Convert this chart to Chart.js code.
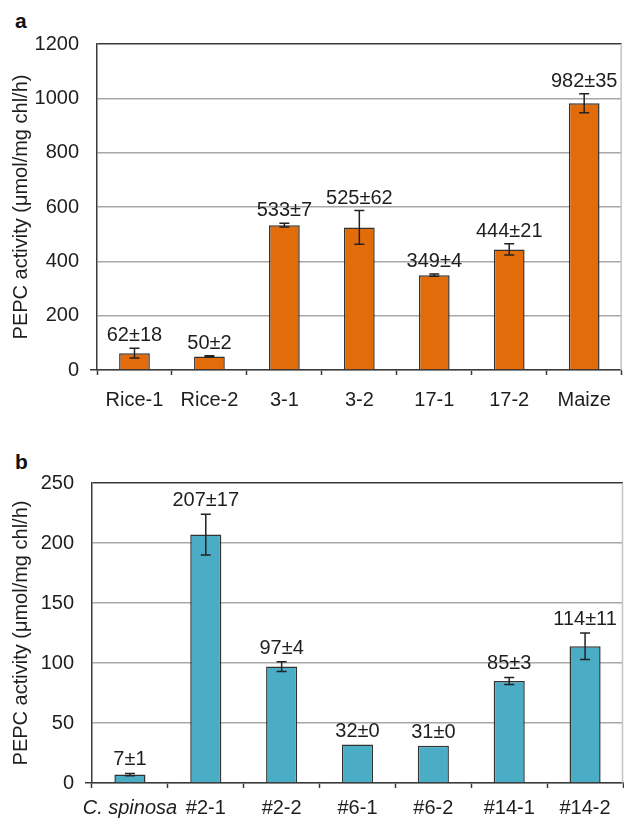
<!DOCTYPE html>
<html>
<head>
<meta charset="utf-8">
<script src="https://cdn.jsdelivr.net/npm/chart.js@4"></script>
<style>
  body { margin: 0; background: #fff; width: 624px; height: 820px; position: relative; overflow: hidden; }
  canvas { position: absolute; left: 0; }
  .panel { position: absolute; font: bold 21px "Liberation Sans", Arial, sans-serif; color: #111; }
</style>
</head>
<body>
<div class="panel" style="left:15px; top:9px;">a</div>
<canvas id="chartA" width="624" height="420" style="top:0"></canvas>
<div class="panel" style="left:15px; top:450px;">b</div>
<canvas id="chartB" width="624" height="400" style="top:420px"></canvas>
<script>
const catA = ['Rice-1', 'Rice-2', '3-1', '3-2', '17-1', '17-2', 'Maize'];
const meanA = [62, 50, 533, 525, 349, 444, 982];
const errA = [18, 2, 7, 62, 4, 21, 35];

const catB = ['C. spinosa', '#2-1', '#2-2', '#6-1', '#6-2', '#14-1', '#14-2'];
const meanB = [7, 207, 97, 32, 31, 85, 114];
const errB = [1, 17, 4, 0, 0, 3, 11];

const FONT = '"Liberation Sans", Arial, sans-serif';
const SIZE = 20;
const TEXT = '#1e1e1e';
const AXIS = '#3a3a3a';

// error bars + "mean±err" labels on top
const errorBars = {
    id: 'errorBars',
    afterDatasetsDraw(chart, args, opts) {
        const ctx = chart.ctx;
        const y = chart.scales.y;
        const meta = chart.getDatasetMeta(0);
        ctx.save();
        ctx.strokeStyle = '#222';
        ctx.lineWidth = 1.5;
        meta.data.forEach((bar, i) => {
            const m = opts.mean[i], e = opts.err[i];
            const top = y.getPixelForValue(m + e);
            const bot = y.getPixelForValue(m - e);
            if (e > 0) {
                ctx.beginPath();
                ctx.moveTo(bar.x, top); ctx.lineTo(bar.x, bot);
                ctx.moveTo(bar.x - 5, top); ctx.lineTo(bar.x + 5, top);
                ctx.moveTo(bar.x - 5, bot); ctx.lineTo(bar.x + 5, bot);
                ctx.stroke();
            }
            ctx.fillStyle = TEXT;
            ctx.font = SIZE + 'px ' + FONT;
            ctx.textAlign = 'center';
            ctx.textBaseline = 'alphabetic';
            ctx.fillText(m + '±' + e, bar.x, top - opts.gap);
        });
        ctx.restore();
    }
};

// light right edge of plot area
const plotEdge = {
    id: 'plotEdge',
    beforeDatasetsDraw(chart) {
        const {ctx, chartArea} = chart;
        ctx.save();
        ctx.strokeStyle = '#c4c4c4';
        ctx.lineWidth = 1.5;
        ctx.beginPath();
        ctx.moveTo(chartArea.right - 0.5, chartArea.top);
        ctx.lineTo(chartArea.right - 0.5, chartArea.bottom);
        ctx.stroke();
        ctx.restore();
    }
};

function makeChart(id, labels, mean, err, color, yMax, step, cfg) {
    return new Chart(document.getElementById(id), {
        type: 'bar',
        data: {
            labels: labels,
            datasets: [{
                data: mean,
                backgroundColor: color,
                borderColor: '#333',
                borderWidth: 1.5,
                categoryPercentage: 1,
                barPercentage: 0.41
            }]
        },
        options: {
            responsive: false,
            animation: false,
            layout: { padding: { top: cfg.top, right: cfg.right, left: 0, bottom: 0 } },
            plugins: {
                legend: { display: false },
                tooltip: { enabled: false },
                errorBars: { mean: mean, err: err, gap: cfg.gap }
            },
            scales: {
                x: {
                    grid: {
                        offset: true,
                        drawOnChartArea: false,
                        drawTicks: true,
                        tickLength: 5,
                        tickColor: AXIS,
                        tickWidth: 1.5
                    },
                    border: { display: true, color: AXIS, width: 1.5 },
                    ticks: {
                        color: TEXT,
                        padding: cfg.xPad,
                        autoSkip: false,
                        maxRotation: 0,
                        minRotation: 0,
                        font: (c) => ({
                            family: FONT, size: SIZE,
                            style: labels[c.index] === 'C. spinosa' ? 'italic' : 'normal'
                        })
                    },
                    afterFit: (s) => { s.height = cfg.xHeight; }
                },
                y: {
                    min: 0,
                    max: yMax,
                    ticks: {
                        stepSize: step,
                        color: TEXT,
                        padding: 11,
                        font: { family: FONT, size: SIZE },
                        callback: (v) => String(v)
                    },
                    grid: {
                        color: (c) => c.tick.value === yMax ? AXIS : '#a8a8a8',
                        lineWidth: 1.5,
                        drawTicks: true,
                        tickLength: 7,
                        tickColor: (c) => c.tick.value === 0 ? AXIS : 'rgba(0,0,0,0)'
                    },
                    border: { display: true, color: AXIS, width: 1.5 },
                    title: {
                        display: true,
                        text: 'PEPC activity (μmol/mg chl/h)',
                        color: TEXT,
                        font: { family: FONT, size: SIZE },
                        padding: { top: 9, bottom: 0 }
                    },
                    afterFit: (s) => { s.width = cfg.yWidth; }
                }
            }
        },
        plugins: [plotEdge, errorBars]
    });
}

makeChart('chartA', catA, meanA, errA, '#e36c0a', 1200, 200,
    { top: 44, right: 2, yWidth: 97, xHeight: 50, xPad: 13, gap: 7 });
makeChart('chartB', catB, meanB, errB, '#4bacc6', 250, 50,
    { top: 63, right: 1, yWidth: 92, xHeight: 37, xPad: 8, gap: 8 });
</script>
</body>
</html>
